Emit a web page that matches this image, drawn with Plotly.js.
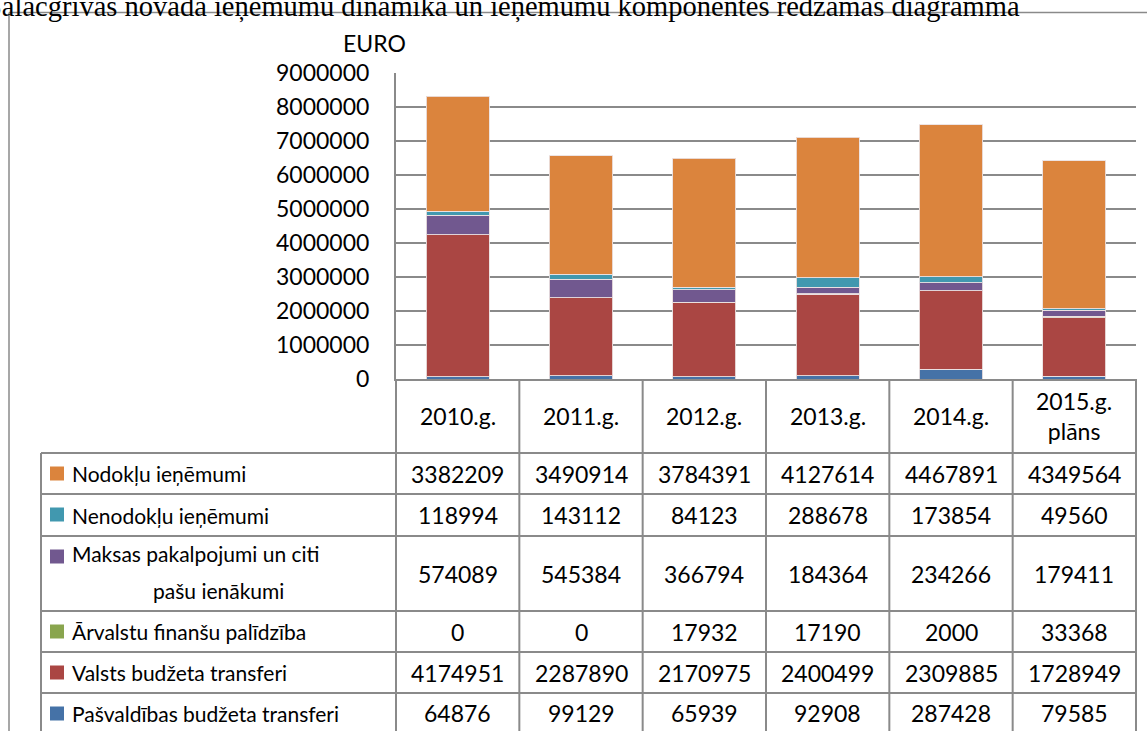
<!DOCTYPE html>
<html>
<head>
<meta charset="utf-8">
<script src="https://cdn.plot.ly/plotly-3.0.1.min.js"></script>
<style>
  html, body { margin: 0; padding: 0; background: #fff; }
  #chart { width: 1147px; height: 731px; }
</style>
</head>
<body>
<div id="chart"></div>
<script>
// ---------------- DATA ----------------
const categories = ['2010.g.', '2011.g.', '2012.g.', '2013.g.', '2014.g.', '2015.g. plāns'];
const headerLabels = ['2010.g.', '2011.g.', '2012.g.', '2013.g.', '2014.g.', '2015.g.<br>plāns'];

const nodoklu      = [3382209, 3490914, 3784391, 4127614, 4467891, 4349564];
const nenodoklu    = [118994, 143112, 84123, 288678, 173854, 49560];
const maksas       = [574089, 545384, 366794, 184364, 234266, 179411];
const arvalstu     = [0, 0, 17932, 17190, 2000, 33368];
const valsts       = [4174951, 2287890, 2170975, 2400499, 2309885, 1728949];
const pasvaldibas  = [64876, 99129, 65939, 92908, 287428, 79585];

// series names as lines of the table label (multi-line where wrapped)
const nameNodoklu     = ['Nodokļu ieņēmumi'];
const nameNenodoklu   = ['Nenodokļu ieņēmumi'];
const nameMaksas      = ['Maksas pakalpojumi un citi', 'pašu ienākumi'];
const nameArvalstu    = ['Ārvalstu finanšu palīdzība'];
const nameValsts      = ['Valsts budžeta transferi'];
const namePasvaldibas = ['Pašvaldības budžeta transferi'];

const yAxisTitle = 'EURO';
const pageTitle = 'Salacgrīvas novada ieņēmumu dinamika un ieņēmumu komponentes redzamas diagrammā';

// ---------------- STYLE ----------------
const colors = {
  nodoklu: '#DB843D', nenodoklu: '#4198AF', maksas: '#71588F',
  arvalstu: '#89A54E', valsts: '#AA4643', pasvaldibas: '#4572A7'
};
const W = 1147, H = 731;
const M = { l: 396, r: 11, t: 73, b: 352 };
const pw = W - M.l - M.r, ph = H - M.t - M.b;
const PX = x => (x - M.l) / pw;
const PY = y => (H - M.b - y) / ph;

const gray = '#8a8a8a';
const numFont = { family: 'Lato, "Open Sans", sans-serif', size: 23, color: '#000' };
const lblFont = { family: 'Lato, "Open Sans", sans-serif', size: 21, color: '#000' };

// table rows top -> bottom (reverse of stacking order)
const tableRows = [
  { name: nameNodoklu, vals: nodoklu, color: colors.nodoklu, h: 41 },
  { name: nameNenodoklu, vals: nenodoklu, color: colors.nenodoklu, h: 42 },
  { name: nameMaksas, vals: maksas, color: colors.maksas, h: 75 },
  { name: nameArvalstu, vals: arvalstu, color: colors.arvalstu, h: 41 },
  { name: nameValsts, vals: valsts, color: colors.valsts, h: 41 },
  { name: namePasvaldibas, vals: pasvaldibas, color: colors.pasvaldibas, h: 41 }
];

// ---------------- TRACES ----------------
const stackOrder = tableRows.slice().reverse();
const traces = stackOrder.map(r => ({
  type: 'bar',
  name: r.name.join(' '),
  x: categories,
  y: r.vals,
  marker: { color: r.color, line: { color: 'rgba(235,225,225,0.9)', width: 1 } },
  hoverinfo: 'x+y+name'
}));

// ---------------- TABLE (shapes + annotations) ----------------
const shapes = [];
const annotations = [];
const lineStyle = { color: gray, width: 2 };
const axisBottom = H - M.b;         // 379
const headerBottom = 453;
const tableLeft = 41;
const tableBottom = H + 5;

// frame of the embedded chart object
shapes.push({ type: 'line', xref: 'paper', yref: 'paper', x0: PX(9), x1: PX(W + 2), y0: PY(12.5), y1: PY(12.5), line: { color: gray, width: 1.5 } });
shapes.push({ type: 'line', xref: 'paper', yref: 'paper', x0: PX(9), x1: PX(9), y0: PY(12.5), y1: PY(H + 2), line: { color: gray, width: 1.5 } });

// vertical category dividers
for (let i = 0; i <= categories.length; i++) {
  const xp = i / categories.length;
  shapes.push({ type: 'line', xref: 'paper', yref: 'paper', x0: xp, x1: xp, y0: PY(axisBottom), y1: PY(tableBottom), line: lineStyle });
}
// left edge of label column
shapes.push({ type: 'line', xref: 'paper', yref: 'paper', x0: PX(tableLeft), x1: PX(tableLeft), y0: PY(headerBottom), y1: PY(tableBottom), line: lineStyle });

// header labels
headerLabels.forEach((lab, i) => {
  annotations.push({ xref: 'x', yref: 'paper', x: categories[i], y: PY((axisBottom + headerBottom) / 2),
    text: lab, showarrow: false, font: numFont, xanchor: 'center', yanchor: 'middle' });
});

// rows
let rowTop = headerBottom;
tableRows.forEach(r => {
  shapes.push({ type: 'line', xref: 'paper', yref: 'paper', x0: PX(tableLeft), x1: 1, y0: PY(rowTop), y1: PY(rowTop), line: lineStyle });
  const mid = rowTop + r.h / 2;
  const kc = rowTop + 20.5;
  shapes.push({ type: 'rect', xref: 'paper', yref: 'paper', x0: PX(50), x1: PX(64), y0: PY(kc - 7), y1: PY(kc + 7),
    fillcolor: r.color, line: { width: 0 } });
  if (r.name.length === 1) {
    annotations.push({ xref: 'paper', yref: 'paper', x: PX(70), y: PY(mid), text: r.name[0], showarrow: false,
      font: lblFont, xanchor: 'left', yanchor: 'middle' });
  } else {
    annotations.push({ xref: 'paper', yref: 'paper', x: PX(70), y: PY(rowTop + 17), text: r.name[0], showarrow: false,
      font: lblFont, xanchor: 'left', yanchor: 'middle' });
    annotations.push({ xref: 'paper', yref: 'paper', x: PX(218), y: PY(rowTop + 54), text: r.name[1], showarrow: false,
      font: lblFont, xanchor: 'center', yanchor: 'middle' });
  }
  r.vals.forEach((v, i) => {
    annotations.push({ xref: 'x', yref: 'paper', x: categories[i], y: PY(mid), text: String(v), showarrow: false,
      font: numFont, xanchor: 'center', yanchor: 'middle' });
  });
  rowTop += r.h;
});
shapes.push({ type: 'line', xref: 'paper', yref: 'paper', x0: PX(tableLeft), x1: 1, y0: PY(rowTop), y1: PY(rowTop), line: lineStyle });

// axis title "EURO"
annotations.push({ xref: 'paper', yref: 'paper', x: PX(374), y: PY(43), text: yAxisTitle, showarrow: false,
  font: numFont, xanchor: 'center', yanchor: 'middle' });

// page title (cut off at the top of the picture, as in the reference)
annotations.push({ xref: 'paper', yref: 'paper', x: PX(-16), y: PY(25), text: pageTitle, showarrow: false,
  font: { family: '"Liberation Serif", "Times New Roman", serif', size: 28.5, color: '#000' }, xanchor: 'left', yanchor: 'bottom' });

const layout = {
  width: W, height: H,
  margin: M,
  paper_bgcolor: '#fff', plot_bgcolor: '#fff',
  barmode: 'stack',
  bargap: 0.487,
  showlegend: false,
  xaxis: {
    type: 'category', range: [-0.5, categories.length - 0.5],
    showticklabels: false, showgrid: false, zeroline: false,
    showline: true, linecolor: gray, linewidth: 2, ticks: '', fixedrange: true
  },
  yaxis: {
    range: [0, 9000000], tick0: 0, dtick: 1000000, tickformat: 'd',
    showgrid: true, gridcolor: gray, gridwidth: 1.5,
    zeroline: false, showline: true, linecolor: gray, linewidth: 2,
    ticks: '', ticklabelstandoff: 20, tickfont: numFont, fixedrange: true
  },
  shapes: shapes,
  annotations: annotations
};

Plotly.newPlot('chart', traces, layout, { displayModeBar: false, staticPlot: true });
</script>
</body>
</html>
